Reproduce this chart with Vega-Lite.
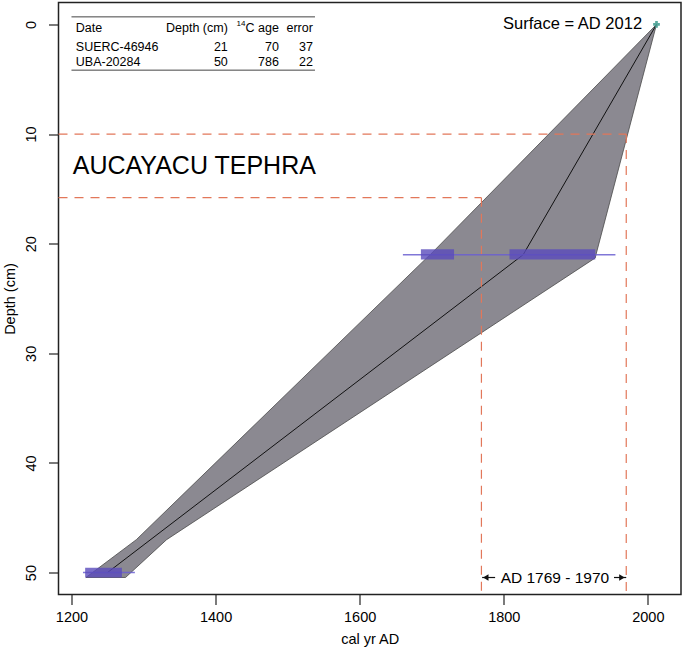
{
  "$schema": "https://vega.github.io/schema/vega-lite/v6.json",
  "width": 622.5,
  "height": 592,
  "autosize": {"type": "none"},
  "padding": {"left": 58.5, "top": 2.5, "right": 4, "bottom": 62.5},
  "background": "white",
  "config": {
    "view": {"stroke": "#222", "strokeWidth": 1.5},
    "font": "Liberation Sans",
    "axis": {
      "labelFont": "Liberation Sans", "labelFontSize": 14.5, "labelColor": "#000",
      "titleFont": "Liberation Sans", "titleFontSize": 14.5, "titleFontWeight": "normal", "titleColor": "#000",
      "tickColor": "#222", "tickSize": 10, "tickWidth": 1.2, "domain": false, "grid": false
    },
    "text": {"font": "Liberation Sans", "color": "#000"}
  },
  "datasets": {
    "envelope": [
      {"depth": 0, "yr": 2012, "yr2": 2012},
      {"depth": 21, "yr": 1698, "yr2": 1928},
      {"depth": 21.3, "yr": 1693, "yr2": 1927},
      {"depth": 47, "yr": 1290, "yr2": 1332},
      {"depth": 50.45, "yr": 1220, "yr2": 1275}
    ],
    "median": [
      {"yr": 2012, "depth": 0},
      {"yr": 1827, "depth": 21},
      {"yr": 1250, "depth": 50}
    ],
    "hdash": [
      {"yr": 1182, "yr2": 1970, "depth": 10},
      {"yr": 1182, "yr2": 1769, "depth": 15.8}
    ],
    "vdash": [
      {"yr": 1970, "depth": 10, "depth2": 52},
      {"yr": 1769, "depth": 15.8, "depth2": 52}
    ],
    "ranges": [
      {"yr": 1660, "yr2": 1955, "depth": 21},
      {"yr": 1216, "yr2": 1288, "depth": 50}
    ],
    "rects": [
      {"yr": 1685, "yr2": 1731, "depth": 20.5, "depth2": 21.45},
      {"yr": 1808, "yr2": 1927, "depth": 20.5, "depth2": 21.45},
      {"yr": 1219, "yr2": 1270, "depth": 49.55, "depth2": 50.45}
    ],
    "surface": [{"yr": 2012, "depth": 0, "label": "Surface = AD 2012", "lx": 1992}],
    "tephra": [{"label": "AUCAYACU TEPHRA", "yr": 1201.8, "depth": 12.9}],
    "period": [{"label": "AD 1769 - 1970", "yr": 1871, "depth": 50.45}],
    "arrowlines": [
      {"yr": 1770, "yr2": 1788, "depth": 50.45},
      {"yr": 1953, "yr2": 1970, "depth": 50.45}
    ],
    "arrowleft": [{"yr": 1775, "depth": 50.45}],
    "arrowright": [{"yr": 1964, "depth": 50.45}],
    "tableleft": [
      {"label": "Date", "yr": 1206, "depth": 0.365},
      {"label": "SUERC-46946", "yr": 1206, "depth": 2.04},
      {"label": "UBA-20284", "yr": 1206, "depth": 3.41}
    ],
    "tableright": [
      {"label": "Depth (cm)", "yr": 1417, "depth": 0.365},
      {"label": "C age", "yr": 1488, "depth": 0.365},
      {"label": "error", "yr": 1535, "depth": 0.365},
      {"label": "21", "yr": 1417, "depth": 2.04},
      {"label": "70", "yr": 1488, "depth": 2.04},
      {"label": "37", "yr": 1535, "depth": 2.04},
      {"label": "50", "yr": 1417, "depth": 3.41},
      {"label": "786", "yr": 1488, "depth": 3.41},
      {"label": "22", "yr": 1535, "depth": 3.41}
    ],
    "sup": [{"label": "14", "yr": 1441.5, "depth": -0.05}],
    "tablelines": [
      {"yr": 1200, "yr2": 1538, "depth": -0.69},
      {"yr": 1200, "yr2": 1538, "depth": 4.17}
    ]
  },
  "encoding": {
    "x": {
      "field": "yr", "type": "quantitative",
      "scale": {"domain": [1182, 2046], "nice": false, "zero": false},
      "axis": {"values": [1200, 1400, 1600, 1800, 2000], "title": "cal yr AD", "labelPadding": 6, "titlePadding": 8, "labelFlush": false, "labelOverlap": false, "format": "d"}
    },
    "y": {
      "field": "depth", "type": "quantitative",
      "scale": {"domain": [-2, 52], "nice": false, "zero": false, "reverse": true},
      "axis": {"values": [0, 10, 20, 30, 40, 50], "title": "Depth (cm)", "labelAngle": 270, "labelAlign": "center", "labelBaseline": "bottom", "labelPadding": 10, "titleX": -48.5, "titleBaseline": "middle", "labelFlush": false, "labelOverlap": false}
    }
  },
  "layer": [
    {
      "data": {"name": "envelope"},
      "mark": {"type": "area", "orient": "horizontal", "fill": "#8b8991", "stroke": "#4a4a4a", "strokeWidth": 0.8, "opacity": 1},
      "encoding": {"x2": {"field": "yr2"}}
    },
    {
      "data": {"name": "median"},
      "mark": {"type": "line", "color": "#111", "strokeWidth": 1},
      "encoding": {"order": {"field": "depth", "type": "quantitative"}}
    },
    {
      "data": {"name": "hdash"},
      "mark": {"type": "rule", "color": "#e2775a", "strokeWidth": 1.2, "strokeDash": [9, 7]},
      "encoding": {"x2": {"field": "yr2"}}
    },
    {
      "data": {"name": "vdash"},
      "mark": {"type": "rule", "color": "#e2775a", "strokeWidth": 1.2, "strokeDash": [9, 7]},
      "encoding": {"y2": {"field": "depth2"}}
    },
    {
      "data": {"name": "ranges"},
      "mark": {"type": "rule", "color": "#6a5fd0", "strokeWidth": 1.5, "opacity": 0.85},
      "encoding": {"x2": {"field": "yr2"}}
    },
    {
      "data": {"name": "rects"},
      "mark": {"type": "rect", "color": "#5a4bbb", "opacity": 0.8},
      "encoding": {"x2": {"field": "yr2"}, "y2": {"field": "depth2"}}
    },
    {
      "data": {"name": "surface"},
      "mark": {"type": "point", "shape": "cross", "size": 45, "filled": true, "color": "#48a093", "opacity": 0.9}
    },
    {
      "data": {"name": "surface"},
      "mark": {"type": "text", "align": "right", "baseline": "middle", "fontSize": 16.5, "dy": -0.3},
      "encoding": {"x": {"field": "lx", "type": "quantitative"}, "text": {"field": "label"}}
    },
    {
      "data": {"name": "tephra"},
      "mark": {"type": "text", "align": "left", "baseline": "middle", "fontSize": 25},
      "encoding": {"text": {"field": "label"}}
    },
    {
      "data": {"name": "period"},
      "mark": {"type": "text", "align": "center", "baseline": "middle", "fontSize": 15.5},
      "encoding": {"text": {"field": "label"}}
    },
    {
      "data": {"name": "arrowlines"},
      "mark": {"type": "rule", "color": "#111", "strokeWidth": 1.2},
      "encoding": {"x2": {"field": "yr2"}}
    },
    {
      "data": {"name": "arrowleft"},
      "mark": {"type": "point", "shape": "triangle-left", "size": 40, "filled": true, "color": "#111", "opacity": 1}
    },
    {
      "data": {"name": "arrowright"},
      "mark": {"type": "point", "shape": "triangle-right", "size": 40, "filled": true, "color": "#111", "opacity": 1}
    },
    {
      "data": {"name": "tablelines"},
      "mark": {"type": "rule", "color": "#444", "strokeWidth": 1},
      "encoding": {"x2": {"field": "yr2"}}
    },
    {
      "data": {"name": "tableleft"},
      "mark": {"type": "text", "align": "left", "baseline": "middle", "fontSize": 12.5},
      "encoding": {"text": {"field": "label"}}
    },
    {
      "data": {"name": "tableright"},
      "mark": {"type": "text", "align": "right", "baseline": "middle", "fontSize": 12.5},
      "encoding": {"text": {"field": "label"}}
    },
    {
      "data": {"name": "sup"},
      "mark": {"type": "text", "align": "right", "baseline": "middle", "fontSize": 8},
      "encoding": {"text": {"field": "label"}}
    }
  ]
}
